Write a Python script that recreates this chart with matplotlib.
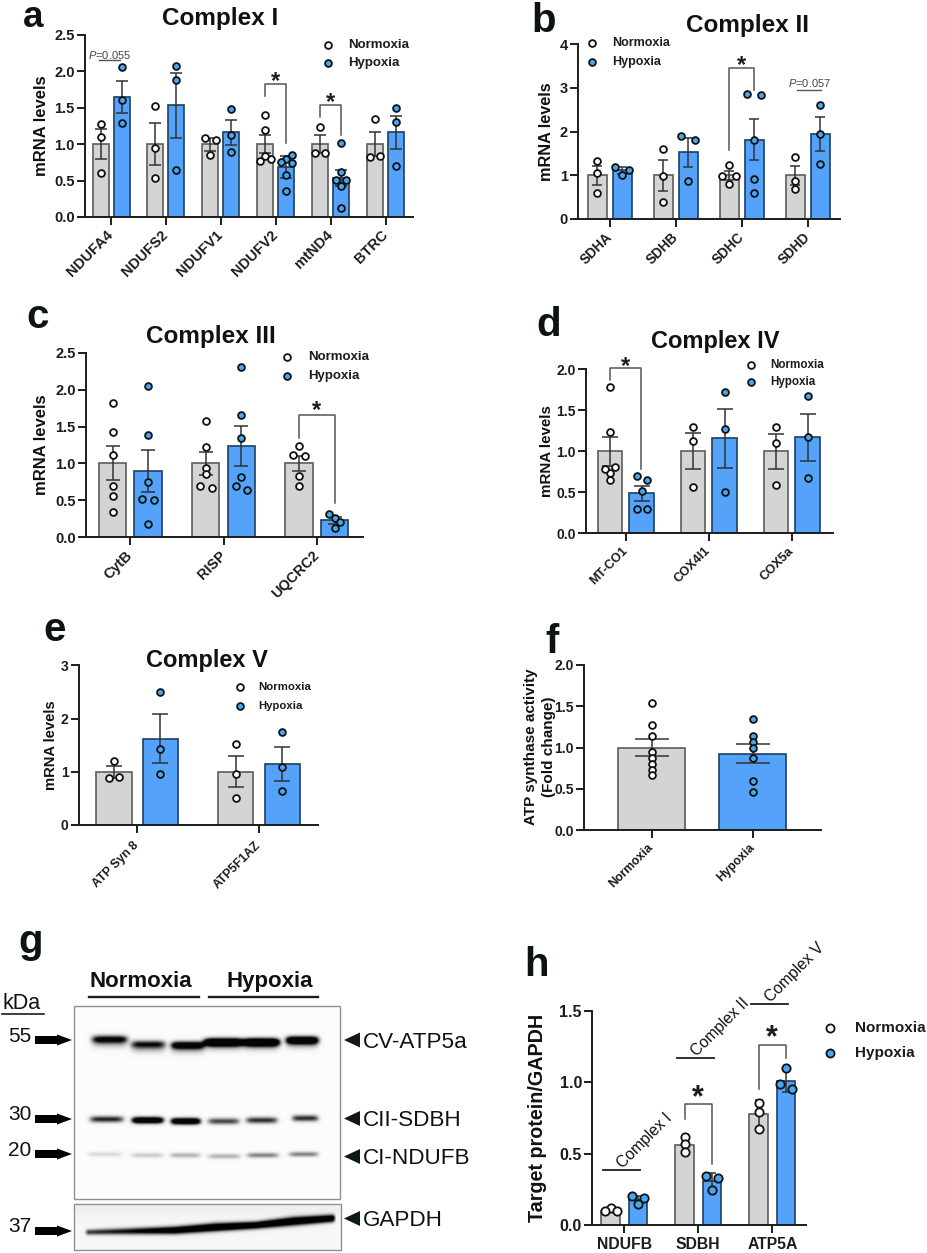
import numpy as np
import matplotlib
matplotlib.use("Agg")
import matplotlib.pyplot as plt
from matplotlib.patches import Rectangle

plt.rcParams["font.family"] = ["Liberation Sans", "DejaVu Sans"]
plt.rcParams["mathtext.fontset"] = "custom"
plt.rcParams["mathtext.it"] = "Liberation Sans:italic"
plt.rcParams["mathtext.rm"] = "Liberation Sans"

W, H = 927, 1253

GRAY = "#d4d4d4"
GRAY_EDGE = "#5c5c5c"
BLUE = "#55a2fb"
BLUE_EDGE = "#1d3f60"
DOT_BLUE = "#45a8f0"
DARK = "#1c1c1c"

# panel a
a_genes = ["NDUFA4", "NDUFS2", "NDUFV1", "NDUFV2", "mtND4", "BTRC"]
a_n_mean = [1, 1, 1, 1, 1, 1]
a_n_sem = [0.2, 0.29, 0.09, 0.12, 0.12, 0.17]
a_n_pts = [[1.27, 1.1, 0.61], [1.52, 0.95, 0.53], [1.09, 1.06, 0.85],
           [1.4, 1.19, 0.84, 0.77, 0.79], [1.23, 0.88, 0.88], [1.34, 0.82, 0.84]]
a_h_mean = [1.65, 1.53, 1.16, 0.68, 0.54, 1.16]
a_h_sem = [0.22, 0.45, 0.17, 0.15, 0.11, 0.23]
a_h_pts = [[2.06, 1.6, 1.29], [2.07, 1.88, 0.64], [1.48, 1.12, 0.89],
           [0.79, 0.76, 0.85, 0.745, 0.57, 0.35], [1.02, 0.62, 0.51, 0.51, 0.42, 0.12],
           [1.49, 1.3, 0.7]]

# panel b
b_genes = ["SDHA", "SDHB", "SDHC", "SDHD"]
b_n_mean = [1, 1, 1, 1]
b_n_sem = [0.22, 0.35, 0.11, 0.22]
b_n_pts = [[1.33, 1.05, 0.59], [1.6, 0.98, 0.39], [1.23, 0.98, 0.98, 0.79], [1.42, 0.86, 0.68]]
b_h_mean = [1.12, 1.53, 1.81, 1.95]
b_h_sem = [0.08, 0.33, 0.47, 0.39]
b_h_pts = [[1.01, 1.18, 1.12], [1.9, 1.82, 0.87], [2.87, 2.83, 1.82, 0.91, 0.6], [2.6, 1.95, 1.27]]

# panel c
c_genes = ["CytB", "RISP", "UQCRC2"]
c_n_mean = [1, 1, 1]
c_n_sem = [0.23, 0.15, 0.1]
c_n_pts = [[1.82, 1.43, 1.12, 0.69, 0.56, 0.34], [1.58, 1.22, 0.94, 0.86, 0.7, 0.67],
           [1.24, 1.12, 1.1, 0.83, 0.69]]
c_h_mean = [0.9, 1.24, 0.23]
c_h_sem = [0.28, 0.27, 0.05]
c_h_pts = [[2.05, 1.39, 0.75, 0.52, 0.5, 0.18], [2.31, 1.66, 1.34, 0.82, 0.7, 0.64],
           [0.13, 0.26, 0.32, 0.21]]

# panel d
d_genes = ["MT-CO1", "COX4I1", "COX5a"]
d_n_mean = [1, 1, 1]
d_n_sem = [0.18, 0.22, 0.21]
d_n_pts = [[1.78, 1.24, 0.73, 0.78, 0.81, 0.65], [1.3, 1.13, 0.565], [1.3, 1.1, 0.59]]
d_h_mean = [0.49, 1.16, 1.17]
d_h_sem = [0.09, 0.36, 0.29]
d_h_pts = [[0.7, 0.65, 0.52, 0.3, 0.3], [1.72, 1.27, 0.5], [1.68, 1.17, 0.67]]

# panel e
e_genes = ["ATP Syn 8", "ATP5F1AZ"]
e_n_mean = [1, 1]
e_n_sem = [0.11, 0.29]
e_n_pts = [[1.21, 0.88, 0.9], [1.52, 0.95, 0.51]]
e_h_mean = [1.62, 1.15]
e_h_sem = [0.46, 0.32]
e_h_pts = [[2.5, 1.42, 0.95], [1.75, 1.09, 0.64]]

# panel f
f_groups = ["Normoxia", "Hypoxia"]
f_mean = [1.0, 0.925]
f_sem = [0.105, 0.113]
f_pts = [[1.54, 1.27, 1.135, 0.94, 0.87, 0.8, 0.73, 0.67],
         [1.34, 1.135, 1.07, 1.0, 0.87, 0.6, 0.465]]

# panel h
h_genes = ["NDUFB", "SDBH", "ATP5A"]
h_n_mean = [0.1, 0.56, 0.775]
h_n_sem = [0.012, 0.055, 0.1]
h_n_pts = [[0.12, 0.1, 0.1], [0.62, 0.565, 0.51], [0.857, 0.795, 0.67]]
h_h_mean = [0.175, 0.305, 1.01]
h_h_sem = [0.028, 0.06, 0.075]
h_h_pts = [[0.15, 0.2, 0.19], [0.34, 0.33, 0.245], [1.1, 0.99, 0.95]]
h_complex = ["Complex I", "Complex II", "Complex V"]
h_complex_y = [0.385, 1.17, 1.55]

# blot bands: lane left, lane right, y, strength (reference pixels)
atp5a_bands = [(92, 127, 1039, 1.1), (131, 165, 1044, 0.9), (171, 204, 1045, 1.4),
               (204, 243, 1042, 2.2), (243, 279, 1042, 2.2), (286, 318, 1040, 1.8)]
sdbh_bands = [(90, 123, 1119, 0.9), (132, 163, 1120, 1.8), (171, 200, 1121, 1.8),
              (208, 239, 1121, 0.75), (246, 277, 1120, 0.85), (292, 318, 1118, 0.85)]
ndufb_bands = [(88, 122, 1154, 0.14), (131, 163, 1155, 0.2), (170, 200, 1155, 0.3),
               (208, 240, 1156, 0.3), (247, 278, 1155, 0.5), (289, 318, 1154, 0.5)]
gapdh_x = [84, 130, 175, 215, 255, 293, 334]
gapdh_y = [1232, 1231, 1230, 1227, 1225, 1221, 1218]
gapdh_strength = [0.75, 1.0, 1.5, 1.7, 1.6, 1.7, 1.6]
gapdh_sigma = [2.6, 3.2, 3.6, 3.8, 3.4, 4.0, 3.4]

fig = plt.figure(figsize=(W / 100, H / 100), dpi=100, facecolor="white")
over = fig.add_axes([0, 0, 1, 1], zorder=10, facecolor="none")
over.set_xlim(0, W)
over.set_ylim(H, 0)
over.axis("off")


def spread(vals, px_per_unit, step, gap=5):
    # points that would sit on top of each other get pushed sideways
    order = sorted(range(len(vals)), key=lambda k: -vals[k])
    clusters = [[order[0]]]
    for k in order[1:]:
        if (vals[clusters[-1][-1]] - vals[k]) * px_per_unit < gap:
            clusters[-1].append(k)
        else:
            clusters.append([k])
    out = [0.0] * len(vals)
    for c in clusters:
        c = sorted(c)
        if len(c) == 2:
            offs = [-step, step]
        else:
            offs = ([0, -step, step] + [step] * len(c))[:len(c)]
        for k, o in zip(c, offs):
            out[k] = o
    return out


def panel(left, right, y0, ytop, first, spacing, ymax, yticks, fmt, tick_fs):
    ax = fig.add_axes([left / W, 1 - y0 / H, (right - left) / W, (y0 - ytop) / H])
    lo = -(first - left) / spacing
    ax.set_xlim(lo, lo + (right - left) / spacing)
    ax.set_ylim(0, ymax)
    ax.patch.set_alpha(0)
    for s in ["top", "right"]:
        ax.spines[s].set_visible(False)
    for s in ["left", "bottom"]:
        ax.spines[s].set_linewidth(1.4)
        ax.spines[s].set_color(DARK)
    ax.set_yticks(yticks)
    ax.set_yticklabels([fmt % t for t in yticks], fontsize=tick_fs, fontweight="bold", color=DARK)
    ax.tick_params(axis="both", width=1.4, length=5.5, color=DARK, pad=2)
    ax.spacing = spacing
    ax.px_per_unit = (y0 - ytop) / ymax
    return ax


def group(ax, xs, means, sems, pts, color, edge, dot, width, capsize, step, msize, gap=5):
    ax.bar(xs, means, width=width, color=color, edgecolor=edge, linewidth=1.2, zorder=2)
    ax.errorbar(xs, means, yerr=sems, fmt="none", ecolor="#333333", elinewidth=1.1,
                capsize=capsize, capthick=1.1, zorder=3)
    for x, vals in zip(xs, pts):
        offs = spread(vals, ax.px_per_unit, step, gap)
        ax.scatter([x + o / ax.spacing for o in offs], vals, s=msize, facecolor=dot,
                   edgecolor="#111111", linewidth=1.3, zorder=4, clip_on=False)


def grouped(ax, labels, n_mean, n_sem, n_pts, h_mean, h_sem, h_pts, offset, width, capsize,
            step, msize, label_fs, gap=5, pad=6):
    idx = np.arange(len(labels))
    d = offset / ax.spacing
    w = width / ax.spacing
    group(ax, idx - d, n_mean, n_sem, n_pts, GRAY, GRAY_EDGE, "white", w, capsize, step, msize, gap)
    group(ax, idx + d, h_mean, h_sem, h_pts, BLUE, BLUE_EDGE, DOT_BLUE, w, capsize, step, msize, gap)
    ax.set_xticks(idx)
    ax.set_xticklabels(labels, rotation=45, ha="right", va="center", rotation_mode="anchor",
                       fontsize=label_fs, fontweight="bold", color=DARK)
    ax.tick_params(axis="x", pad=pad)


def bracket(ax, x1, x2, y1, ytop, y2, star_y, fs=17):
    ax.plot([x1, x1, x2, x2], [y1, ytop, ytop, y2], color="#555555", lw=1.1, zorder=5, clip_on=False)
    ax.text((x1 + x2) / 2, star_y, "*", ha="center", va="center", fontsize=fs,
            fontweight="bold", color=DARK, clip_on=False)


def legend(mx, tx, y1, y2, fs, msize=24):
    over.scatter([mx], [y1], s=msize, facecolor="white", edgecolor="#111111", linewidth=1.3)
    over.scatter([mx], [y2], s=msize, facecolor=DOT_BLUE, edgecolor="#111111", linewidth=1.3)
    over.text(tx, y1, "Normoxia", fontsize=fs, fontweight="bold", va="center", color=DARK)
    over.text(tx, y2, "Hypoxia", fontsize=fs, fontweight="bold", va="center", color=DARK)


def title(x, y, s, fs=17.5):
    over.text(x, y, s, fontsize=fs, fontweight="bold", ha="center", va="center", color="#111111")


def letter(x, y, s, fs=29):
    over.text(x, y, s, fontsize=fs, fontweight="bold", ha="center", va="baseline", color="#0c140f")


def ylabel(x, y, s, fs, spacing=1.0):
    over.text(x, y, s, fontsize=fs, fontweight="bold", rotation=90, ha="center", va="center",
              color="#111111", linespacing=spacing, multialignment="center")


def pvalue(x, y, x1, x2, line_y, s):
    over.text(x, y, s, fontsize=8, ha="center", va="center", color="#444444")
    over.plot([x1, x2], [line_y, line_y], color="#555555", lw=1.0)


# a
ax = panel(85, 413, 217, 34.7, 111, 54.9, 2.5, [0, 0.5, 1, 1.5, 2, 2.5], "%.1f", 10.5)
grouped(ax, a_genes, a_n_mean, a_n_sem, a_n_pts, a_h_mean, a_h_sem, a_h_pts, 10.5, 16, 4, 5.3, 24, 10.5)
bracket(ax, 3 - 0.19, 3 + 0.19, 1.66, 1.82, 1.02, 1.86)
bracket(ax, 4 - 0.19, 4 + 0.19, 1.37, 1.53, 1.12, 1.57)
letter(33, 27, "a", 26.5)
title(220, 19, "Complex I")
ylabel(41.7, 125.7, "mRNA levels", 12)
legend(327.7, 348.3, 44.7, 63.3, 9.5)
pvalue(110, 55, 99.5, 120, 60, r"$\mathit{P}$=0.055")

# b
ax = panel(578.3, 840, 219, 44.3, 609.7, 66, 4, [0, 1, 2, 3, 4], "%d", 10.5)
grouped(ax, b_genes, b_n_mean, b_n_sem, b_n_pts, b_h_mean, b_h_sem, b_h_pts, 12.5, 19, 3.8, 7, 24, 9.8)
bracket(ax, 2 - 0.19, 2 + 0.19, 1.58, 3.45, 2.95, 3.51)
letter(544, 31.7, "b")
title(748, 25.7, "Complex II")
ylabel(547, 131.7, "mRNA levels", 11.7)
legend(591.7, 611.7, 43.3, 61.7, 9)
pvalue(809, 83, 796.7, 821, 90.3, r"$\mathit{P}$=0.057")

# c
ax = panel(86, 363.3, 537.3, 352.7, 130.3, 93.3, 2.5, [0, 0.5, 1, 1.5, 2, 2.5], "%.1f", 10.5)
grouped(ax, c_genes, c_n_mean, c_n_sem, c_n_pts, c_h_mean, c_h_sem, c_h_pts, 17.8, 27.3, 5, 5.7, 24, 10.4)
bracket(ax, 2 - 0.19, 2 + 0.19, 1.35, 1.65, 0.47, 1.72)
letter(37.3, 328, "c")
title(211, 336.7, "Complex III")
ylabel(41.7, 445, "mRNA levels", 12)
legend(287.3, 308.3, 357.3, 376, 9.5)

# d
ax = panel(586.3, 832.7, 533.3, 369.3, 625.7, 83, 2, [0, 0.5, 1, 1.5, 2], "%.1f", 10)
grouped(ax, d_genes, d_n_mean, d_n_sem, d_n_pts, d_h_mean, d_h_sem, d_h_pts, 15.8, 24.3, 6, 5, 24, 9.2)
bracket(ax, -0.19, 0.19, 1.87, 2.01, 0.78, 2.04)
letter(549, 336, "d")
title(715, 341.7, "Complex IV", 17)
ylabel(547, 450.7, "mRNA levels", 10.9)
legend(751, 770, 365, 381.7, 8.4)

# e
ax = panel(79, 318.3, 825, 665.3, 137.3, 121.7, 3, [0, 1, 2, 3], "%d", 10)
grouped(ax, e_genes, e_n_mean, e_n_sem, e_n_pts, e_h_mean, e_h_sem, e_h_pts, 23.2, 35.3, 6, 5, 24, 8.8, pad=8)
letter(55, 640.7, "e")
title(207.3, 660.7, "Complex V", 17)
ylabel(51, 745, "mRNA levels", 10.6)
legend(239.7, 258.3, 687, 705.7, 8.2)

# f
ax = panel(584, 820.7, 830, 665, 651.7, 101, 2, [0, 0.5, 1, 1.5, 2], "%.1f", 10)
group(ax, [0], f_mean[:1], f_sem[:1], f_pts[:1], GRAY, GRAY_EDGE, "white", 66.7 / 101, 12, 0, 24)
group(ax, [1], f_mean[1:], f_sem[1:], f_pts[1:], BLUE, BLUE_EDGE, DOT_BLUE, 66.7 / 101, 12, 0, 24)
ax.set_xticks([0, 1])
ax.set_xticklabels(f_groups, rotation=45, ha="right", va="center", rotation_mode="anchor",
                   fontsize=8.8, fontweight="bold", color=DARK)
ax.tick_params(axis="x", pad=6)
letter(552, 653, "f")
ylabel(540, 747, "ATP synthase activity\n(Fold change)", 11, 1.3)

# h
ax = panel(592.3, 806, 1225, 1011, 624.3, 74, 1.5, [0, 0.5, 1, 1.5], "%.1f", 11.5)
grouped(ax, h_genes, h_n_mean, h_n_sem, h_n_pts, h_h_mean, h_h_sem, h_h_pts, 13.8, 18.3, 3, 6, 36, 11.3, gap=6)
ax.set_xticklabels(h_genes, rotation=0, ha="center", va="top", fontsize=11.3, fontweight="bold",
                   color=DARK)
ax.tick_params(axis="x", pad=3)
bracket(ax, 1 - 0.186, 1 + 0.186, 0.74, 0.85, 0.43, 0.885, 22)
bracket(ax, 2 - 0.186, 2 + 0.186, 0.95, 1.26, 1.17, 1.31, 22)
for i, (name, y) in enumerate(zip(h_complex, h_complex_y)):
    ax.plot([i - 0.29, i + 0.21], [y, y], color=DARK, lw=1.3, clip_on=False)
    ax.text(i + 0.01, y - 0.005, name, rotation=45, ha="left", va="bottom", rotation_mode="anchor",
            fontsize=11.3, color="#111111", clip_on=False)
letter(536.7, 976, "h")
ylabel(537.3, 1117.7, "Target protein/GAPDH", 14.2)
legend(830, 855, 1027.7, 1052.7, 11, 34)


# g: blot drawn from the band tables
def grid(x0, x1, y0, y1):
    return np.meshgrid(np.arange(x0, x1, 0.5), np.arange(y0, y1, 0.5))


def lanes(xx, yy, bands, sigma, halo=0.0):
    dark = np.zeros_like(xx)
    for bx0, bx1, by, strength in bands:
        mid = (bx0 + bx1) / 2
        half = (bx1 - bx0) / 2
        prof = np.exp(-(np.abs(xx - mid) / half) ** 6)
        dark += strength * prof * np.exp(-((yy - by) / sigma) ** 2)
        if halo:
            dark += halo * prof * np.exp(-((yy - by - 4) / (sigma * 1.3)) ** 2)
    return dark


def show_blot(dark, x0, x1, y0, y1, base=0.985):
    img = base - np.clip(dark, 0, 1) * 0.96
    over.imshow(img, cmap="gray", vmin=0, vmax=1, extent=(x0, x1, y1, y0), aspect="auto",
                interpolation="bilinear", zorder=1)
    over.add_patch(Rectangle((x0, y0), x1 - x0, y1 - y0, fill=False, edgecolor="#8f8f8f", lw=1.0, zorder=2))


xx, yy = grid(74, 340, 1006, 1199)
main = lanes(xx, yy, atp5a_bands, 3.6, 0.28) + lanes(xx, yy, sdbh_bands, 3.0) + lanes(xx, yy, ndufb_bands, 2.4)
show_blot(main, 74, 340, 1006, 1199)

xx, yy = grid(74, 341, 1204, 1250)
centre = np.interp(xx, gapdh_x, gapdh_y)
wide = np.interp(xx, gapdh_x, gapdh_sigma)
amp = np.interp(xx, gapdh_x, gapdh_strength)
edge = np.clip((xx - 84) / 4, 0, 1) * np.clip((336 - xx) / 4, 0, 1)
gapdh = amp * edge * np.exp(-((yy - centre) / wide) ** 2) + 0.03 * np.exp(-((yy - 1210) / 5) ** 2)
show_blot(gapdh, 74, 341, 1204, 1250, 0.965)
over.set_xlim(0, W)
over.set_ylim(H, 0)

letter(30.7, 953, "g")
over.text(141, 987, "Normoxia", fontsize=16, fontweight="bold", ha="center", va="baseline", color="#111111")
over.text(270, 987, "Hypoxia", fontsize=16, fontweight="bold", ha="center", va="baseline", color="#111111")
over.plot([89, 198.7], [996.7, 996.7], color=DARK, lw=1.7)
over.plot([208.7, 317.7], [996.7, 996.7], color=DARK, lw=1.7)
over.text(2, 1009, "kDa", fontsize=15.5, va="baseline", color="#111111")
over.plot([2, 44], [1014, 1014], color=DARK, lw=1.2)

marker_names = ["55", "30", "20", "37"]
marker_y = [1040, 1119, 1154, 1231]
marker_text_y = [1037, 1115, 1150, 1227]
for name, y, ty in zip(marker_names, marker_y, marker_text_y):
    over.text(20, ty, name, fontsize=15, ha="center", va="center", color="#111111")
    over.fill([35, 57, 57, 72, 57, 57, 35], [y - 4, y - 4, y - 5.5, y, y + 5.5, y + 4, y + 4], color="black", lw=0)

blot_names = ["CV-ATP5a", "CII-SDBH", "CI-NDUFB", "GAPDH"]
blot_y = [1040, 1118.5, 1156.5, 1218.5]
for name, y in zip(blot_names, blot_y):
    over.fill([344, 360, 360], [y, y - 7.5, y + 7.5], color="#0c1a12", lw=0)
    over.text(362.5, y + 2, name, fontsize=16.2, va="center", color="#111111")

fig.savefig("out.png", dpi=100)
